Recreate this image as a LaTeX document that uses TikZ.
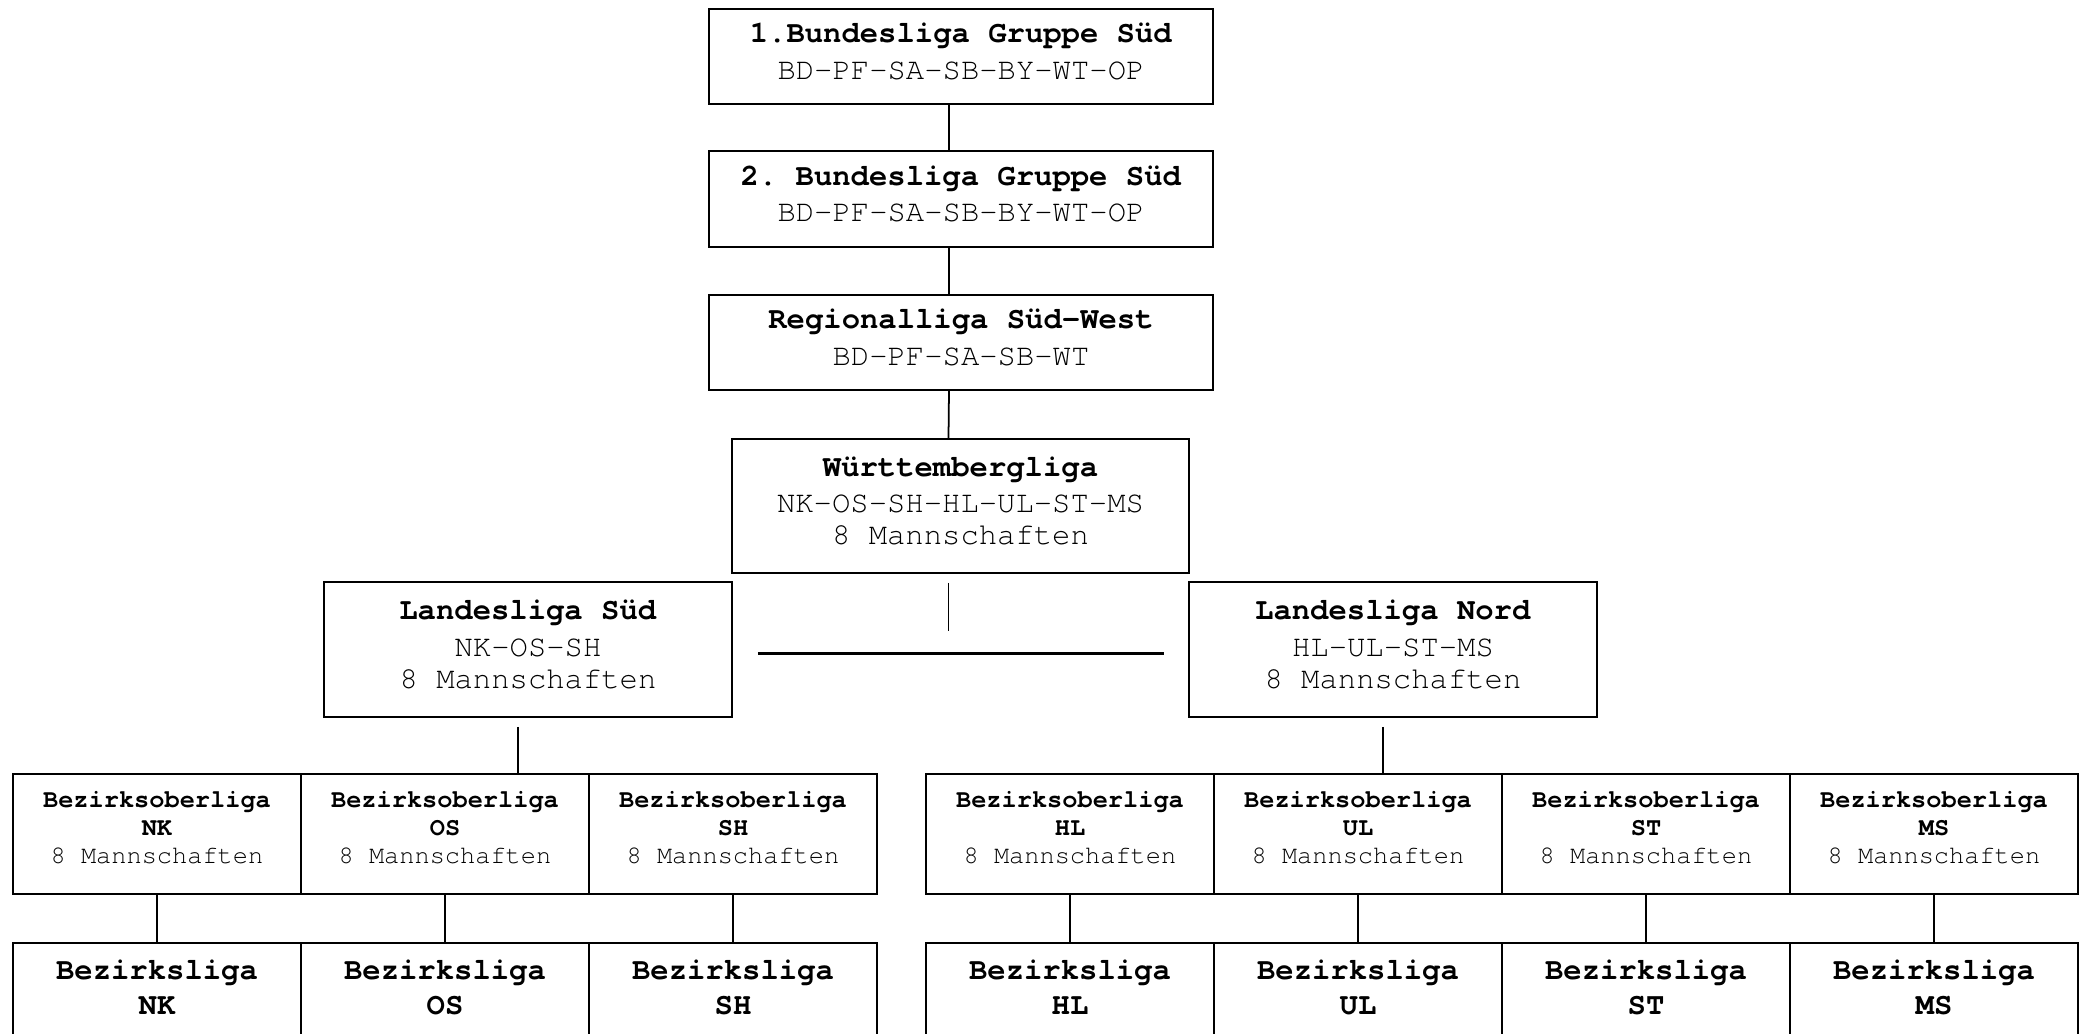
\documentclass[tikz,border=0pt]{standalone}
\usepackage{fontspec}
\setmonofont{TeX Gyre Cursor}
\usetikzlibrary{positioning}

\begin{document}
\begin{tikzpicture}[
    liga/.style={draw, line width=0.5pt, align=center, inner sep=0pt, font=\ttfamily\fontsize{8.7}{9.1}\selectfont,
        execute at end node={\rule[-3pt]{0pt}{3pt}}},
    bol/.style={draw, line width=0.5pt, align=center, inner sep=0pt, minimum width=2.88cm, minimum height=1.2cm, font=\ttfamily\fontsize{7.2}{8}\selectfont,
        execute at end node={\rule[-3.8pt]{0pt}{3.8pt}}},
    bzl/.style={draw, line width=0.5pt, align=center, inner sep=0pt, anchor=north, minimum width=2.88cm, minimum height=0.95cm, font=\ttfamily\bfseries\fontsize{8.7}{10}\selectfont,
        execute at end node={\rule[-2pt]{0pt}{2pt}}},
    link/.style={line width=0.5pt},
]
\clip (0,0) rectangle (20.83,-10.34);

% upper leagues
\node[liga, minimum width=5.04cm, minimum height=0.95cm] (bl1) at (9.61,-0.565) {\textbf{1.Bundesliga Gruppe Süd}\\[1.2pt]BD-PF-SA-SB-BY-WT-OP};
\node[liga, minimum width=5.04cm, minimum height=0.96cm] (bl2) at (9.61,-1.99) {\textbf{2. Bundesliga Gruppe Süd}\\[1.2pt]BD-PF-SA-SB-BY-WT-OP};
\node[liga, minimum width=5.04cm, minimum height=0.95cm] (rl) at (9.61,-3.425) {\textbf{Regionalliga Süd-West}\\[1.2pt]BD-PF-SA-SB-WT};
\node[liga, minimum width=4.57cm, minimum height=1.34cm] (wl) at (9.605,-5.06) {\textbf{Württembergliga}\\[1.4pt]NK-OS-SH-HL-UL-ST-MS\\8 Mannschaften};

% Landesliga
\node[liga, minimum width=4.08cm, minimum height=1.35cm] (lss) at (5.28,-6.495) {\textbf{Landesliga Süd}\\[1.4pt]NK-OS-SH\\8 Mannschaften};
\node[liga, minimum width=4.08cm, minimum height=1.35cm] (lsn) at (13.93,-6.495) {\textbf{Landesliga Nord}\\[1.4pt]HL-UL-ST-MS\\8 Mannschaften};

% Bezirksoberliga
\node[bol] (bolnk) at (1.57,-8.34) {\textbf{Bezirksoberliga}\\\textbf{NK}\\8 Mannschaften};
\node[bol] (bolos) at (4.45,-8.34) {\textbf{Bezirksoberliga}\\\textbf{OS}\\8 Mannschaften};
\node[bol] (bolsh) at (7.33,-8.34) {\textbf{Bezirksoberliga}\\\textbf{SH}\\8 Mannschaften};
\node[bol] (bolhl) at (10.70,-8.34) {\textbf{Bezirksoberliga}\\\textbf{HL}\\8 Mannschaften};
\node[bol] (bolul) at (13.58,-8.34) {\textbf{Bezirksoberliga}\\\textbf{UL}\\8 Mannschaften};
\node[bol] (bolst) at (16.46,-8.34) {\textbf{Bezirksoberliga}\\\textbf{ST}\\8 Mannschaften};
\node[bol] (bolms) at (19.34,-8.34) {\textbf{Bezirksoberliga}\\\textbf{MS}\\8 Mannschaften};

% Bezirksliga
\node[bzl] (blnk) at (1.57,-9.42) {Bezirksliga\\NK};
\node[bzl] (blos) at (4.45,-9.42) {Bezirksliga\\OS};
\node[bzl] (blsh) at (7.33,-9.42) {Bezirksliga\\SH};
\node[bzl] (blhl) at (10.70,-9.42) {Bezirksliga\\HL};
\node[bzl] (blul) at (13.58,-9.42) {Bezirksliga\\UL};
\node[bzl] (blst) at (16.46,-9.42) {Bezirksliga\\ST};
\node[bzl] (blms) at (19.34,-9.42) {Bezirksliga\\MS};

% connections
\draw[link] ([xshift=-1.2mm]bl1.south) -- ([xshift=-1.2mm]bl2.north);
\draw[link] ([xshift=-1.2mm]bl2.south) -- ([xshift=-1.2mm]rl.north);
\draw[link] ([xshift=-1.2mm]rl.south) -- ([xshift=-1.2mm]wl.north);
\draw[link] ([xshift=-1.2mm,yshift=-0.9mm]wl.south) -- ++(0,-0.48);
\draw[line width=0.7pt] ([xshift=2.5mm,yshift=-0.4mm]lss.east) -- ([xshift=-2.4mm,yshift=-0.4mm]lsn.west);
\draw[link] ([xshift=-1mm,yshift=-0.9mm]lss.south) coordinate (lsd) -- (lsd |- bolos.north);
\draw[link] ([xshift=-1mm,yshift=-0.9mm]lsn.south) coordinate (lnd) -- (lnd |- bolul.north);

\draw[link] (bolnk.south) -- (blnk.north);
\draw[link] (bolos.south) -- (blos.north);
\draw[link] (bolsh.south) -- (blsh.north);
\draw[link] (bolhl.south) -- (blhl.north);
\draw[link] (bolul.south) -- (blul.north);
\draw[link] (bolst.south) -- (blst.north);
\draw[link] (bolms.south) -- (blms.north);
\end{tikzpicture}
\end{document}
